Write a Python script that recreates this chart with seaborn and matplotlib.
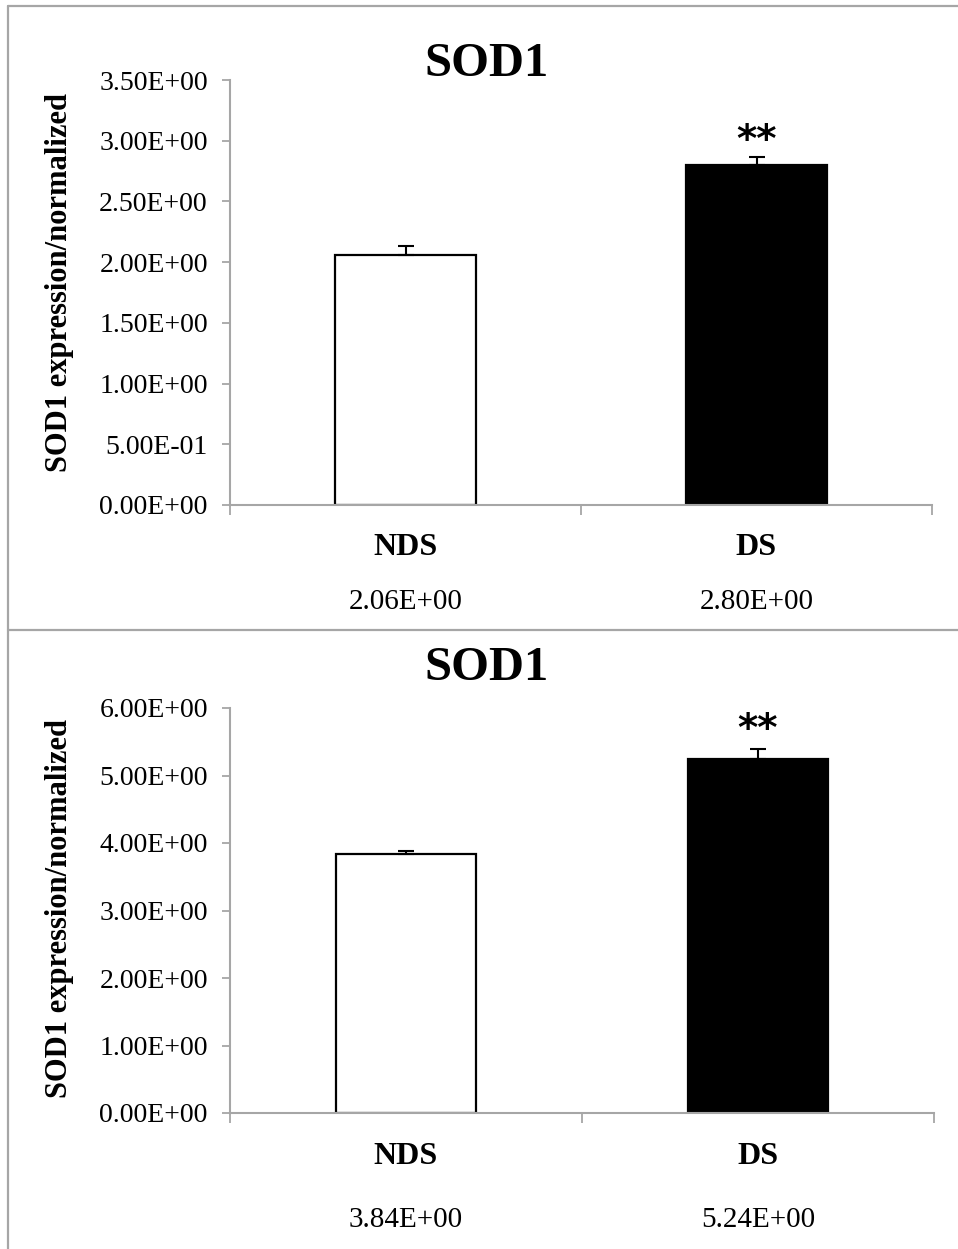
import matplotlib
matplotlib.use("Agg")
import matplotlib.pyplot as plt
import seaborn as sns
import pandas as pd
from matplotlib.lines import Line2D
from matplotlib.ticker import FormatStrFormatter, FixedLocator

categories = ["NDS", "DS"]
top_values = [2.06, 2.80]
top_errors = [0.07, 0.065]
top_labels = ["2.06E+00", "2.80E+00"]
bottom_values = [3.84, 5.24]
bottom_errors = [0.04, 0.15]
bottom_labels = ["3.84E+00", "5.24E+00"]
title_text = "SOD1"
ylabel_text = "SOD1 expression/normalized"
significance = ["", "**"]

sns.set_theme(style="white")
plt.rcParams["font.family"] = ["Liberation Serif", "DejaVu Serif"]

W, H = 958, 1249
fig = plt.figure(figsize=(W / 100, H / 100), dpi=100)
fig.patch.set_facecolor("white")

def fx(px):
    return px / W

def fy(py):
    return 1 - py / H

grey = "#a6a6a6"
palette = {"NDS": "white", "DS": "black"}

def panel(left, right, top, bottom, values, errors, labels, ymax, ystep,
          title_y, ylab_y, name_off, val_off, star_off):
    ax = fig.add_axes([fx(left), fy(bottom), fx(right) - fx(left), fy(top) - fy(bottom)])
    df = pd.DataFrame({"group": categories, "value": values})
    sns.barplot(data=df, x="group", y="value", hue="group", palette=palette,
                edgecolor="black", linewidth=1.6, width=0.4, errorbar=None,
                legend=False, ax=ax, saturation=1)
    xs = list(range(len(categories)))
    ax.errorbar(xs, values, yerr=[[0] * len(errors), errors], fmt="none",
                ecolor="black", elinewidth=1.5, capsize=5.5, capthick=1.5, zorder=1)
    ax.set_xlim(-0.5, len(categories) - 0.5)
    ax.set_ylim(0, ymax)
    ax.set_yticks([i * ystep for i in range(int(round(ymax / ystep)) + 1)])
    ax.yaxis.set_major_formatter(FormatStrFormatter("%.2E"))
    ax.set_xticks([])
    ax.xaxis.set_minor_locator(FixedLocator([-0.5 + i for i in range(len(categories) + 1)]))
    ax.tick_params(axis="x", which="minor", length=7, width=1.3, color=grey, direction="out", bottom=True)
    ax.tick_params(axis="y", length=6, width=1.3, color=grey, direction="out", left=True,
                   labelsize=20, pad=10, labelcolor="black")
    for s in ["top", "right"]:
        ax.spines[s].set_visible(False)
    for s in ["left", "bottom"]:
        ax.spines[s].set_color(grey)
        ax.spines[s].set_linewidth(1.5)
    ax.set_xlabel("")
    ax.set_ylabel("")
    tr = ax.get_xaxis_transform()
    for i, c in enumerate(categories):
        ax.text(i, name_off, c, transform=tr, ha="center", va="center",
                fontsize=23, fontweight="bold", color="black")
        ax.text(i, val_off, labels[i], transform=tr, ha="center", va="center",
                fontsize=21, color="black")
        if significance[i]:
            ax.annotate(significance[i], (i, values[i] + errors[i]), xytext=(0, star_off),
                        textcoords="offset points", ha="center", va="bottom",
                        fontsize=28, fontweight="bold", family="DejaVu Sans", color="black")
    fig.text(fx(487), fy(title_y), title_text, ha="center", va="center",
             fontsize=35, fontweight="bold", color="black")
    fig.text(fx(60), fy(ylab_y), ylabel_text, ha="center", va="center", rotation=90,
             fontsize=22, fontweight="bold", color="black")
    return ax

panel(230, 932, 80, 505, top_values, top_errors, top_labels, 3.5, 0.5,
      64, 282, -0.101, -0.228, -2)
panel(230, 934, 708, 1113, bottom_values, bottom_errors, bottom_labels, 6.0, 1.0,
      668, 908, -0.1086, -0.264, 0)

# panel borders
for (x0, y0, x1, y1) in [(8, 6, 958, 6), (8, 6, 8, 1249), (8, 630, 958, 630)]:
    fig.add_artist(Line2D([fx(x0), fx(x1)], [fy(y0), fy(y1)], color=grey, linewidth=1.6,
                          transform=fig.transFigure))

fig.savefig("out.png", dpi=100, facecolor="white")
